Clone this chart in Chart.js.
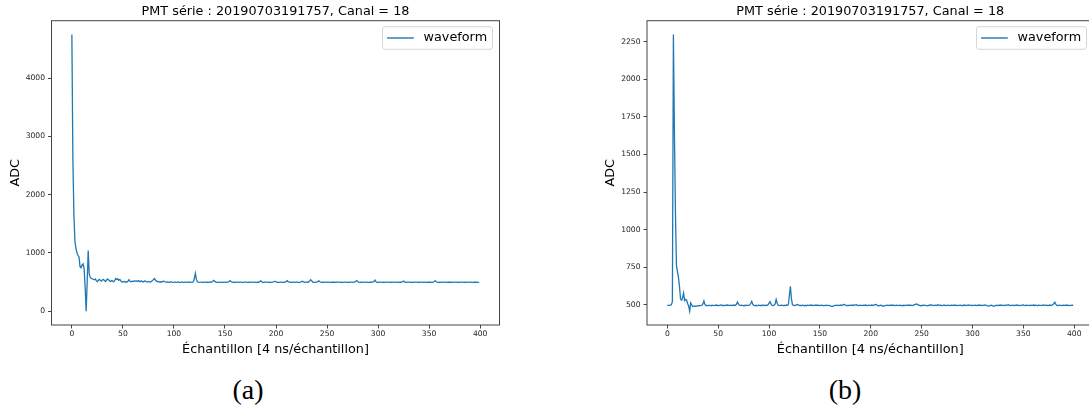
<!DOCTYPE html>
<html>
<head>
<meta charset="utf-8">
<script src="https://cdn.jsdelivr.net/npm/chart.js@4/dist/chart.umd.min.js"></script>
<style>
  html, body { margin: 0; padding: 0; background: #fff; }
  body { width: 1089px; height: 408px; overflow: hidden; position: relative; }
  canvas { position: absolute; top: 0; }
  #ca { left: 0; }
  #cb { left: 545px; }
  .cap { position: absolute; font-family: "Liberation Serif", serif; font-size: 28px; color: #000;
         transform: translate(-50%, -50%); white-space: nowrap; line-height: 1; }
</style>
</head>
<body>
<canvas id="ca" width="545" height="360"></canvas>
<canvas id="cb" width="560" height="360"></canvas>
<div class="cap" style="left:248px; top:390px;">(a)</div>
<div class="cap" style="left:845px; top:390px;">(b)</div>
<script>
// ---- data ----
const chartTitle = "PMT série : 20190703191757, Canal = 18";
const xAxisTitle = "Échantillon [4 ns/échantillon]";
const yAxisTitle = "ADC";
const seriesName = "waveform";
const xTicks = [0, 50, 100, 150, 200, 250, 300, 350, 400];
const yTicksA = [0, 1000, 2000, 3000, 4000];
const yTicksB = [500, 750, 1000, 1250, 1500, 1750, 2000, 2250];

const waveformA = [
  4750, 2600, 1650, 1200, 1080, 1000, 960, 930, 765, 745, 790, 810, 730, 420, 0, 500, 1040, 640, 580, 565,
  555, 548, 540, 552, 525, 505, 530, 545, 528, 515, 540, 545, 522, 510, 535, 550, 540, 520, 510, 525,
  515, 505, 530, 560, 545, 555, 530, 545, 520, 500, 505, 510, 500, 505, 500, 515, 540, 510, 505, 515,
  510, 520, 515, 520, 510, 525, 515, 505, 520, 510, 500, 515, 520, 505, 500, 510, 505, 500, 515, 525,
  545, 560, 530, 515, 505, 510, 500, 505, 500, 510, 515, 505, 500, 498, 502, 496, 500, 505, 498, 495,
  497, 500, 495, 498, 502, 496, 494, 498, 500, 496, 495, 499, 497, 494, 500, 502, 496, 495, 498, 505,
  560, 650, 545, 505, 498, 495, 497, 500, 496, 494, 498, 500, 496, 497, 495, 499, 503, 498, 510, 530,
  515, 500, 496, 498, 495, 497, 500, 496, 494, 498, 497, 495, 499, 500, 510, 525, 508, 497, 495, 498,
  496, 494, 498, 500, 495, 497, 499, 496, 494, 498, 500, 497, 495, 498, 496, 499, 497, 494, 498, 500,
  496, 495, 498, 497, 505, 520, 506, 496, 494, 498, 500, 497, 495, 499, 496, 494, 498, 500, 505, 515,
  505, 496, 498, 495, 497, 500, 496, 494, 498, 500, 508, 525, 505, 497, 495, 498, 496, 499, 497, 494,
  498, 500, 496, 495, 500, 506, 515, 502, 496, 498, 500, 497, 503, 520, 540, 520, 500, 496, 494, 498,
  500, 508, 520, 505, 497, 495, 498, 496, 499, 497, 494, 498, 500, 496, 495, 498, 497, 500, 496, 494,
  498, 500, 497, 495, 499, 496, 494, 498, 500, 497, 495, 498, 496, 499, 497, 494, 498, 500, 510, 525,
  512, 497, 495, 498, 496, 499, 497, 494, 498, 500, 496, 495, 498, 497, 500, 498, 512, 532, 505, 496,
  494, 498, 500, 497, 495, 499, 496, 494, 498, 500, 497, 495, 498, 496, 499, 497, 494, 498, 500, 496,
  495, 498, 497, 500, 508, 518, 503, 496, 494, 498, 500, 497, 495, 499, 496, 494, 498, 500, 497, 495,
  498, 496, 499, 497, 494, 498, 500, 496, 495, 498, 497, 500, 496, 494, 500, 510, 522, 504, 497, 495,
  498, 496, 499, 497, 494, 498, 500, 496, 495, 498, 497, 500, 496, 494, 498, 500, 497, 495, 499, 496,
  494, 498, 500, 497, 495, 498, 496, 499, 497, 494, 498, 500, 496, 495, 498, 497, 500, 496, 494, 497
];

const waveformB = [
  495, 496, 495, 497, 500, 520, 2298, 1650, 1120, 760, 720, 680, 620, 540, 530, 545, 577, 528, 535, 530,
  508, 490, 457, 512, 500, 488, 490, 492, 489, 491, 493, 492, 495, 494, 496, 505, 525, 502, 495, 496,
  494, 496, 495, 493, 497, 495, 494, 496, 498, 495, 496, 494, 497, 499, 495, 496, 494, 497, 495, 498,
  496, 495, 497, 494, 496, 498, 495, 497, 503, 518, 505, 496, 494, 497, 495, 493, 496, 494, 497, 495,
  496, 498, 508, 522, 503, 495, 494, 496, 493, 495, 497, 494, 496, 495, 498, 494, 496, 497, 495, 500,
  510, 520, 505, 495, 494, 497, 505, 535, 510, 496, 494, 496, 495, 497, 494, 496, 495, 498, 496, 500,
  560, 622, 540, 500, 496, 494, 497, 499, 501, 498, 495, 496, 494, 497, 495, 493, 496, 494, 497, 495,
  496, 498, 495, 497, 494, 496, 498, 495, 497, 496, 494, 497, 495, 496, 493, 495, 497, 494, 496, 495,
  493, 490, 488, 491, 494, 496, 495, 497, 494, 496, 498, 495, 497, 500, 502, 498, 495, 496, 494, 497,
  495, 496, 498, 495, 497, 499, 500, 496, 494, 497, 495, 496, 494, 497, 495, 498, 496, 494, 497, 495,
  496, 498, 495, 497, 500, 502, 498, 494, 493, 495, 497, 494, 490, 492, 494, 496, 495, 497, 494, 496,
  498, 495, 497, 496, 494, 497, 495, 496, 494, 497, 495, 493, 496, 494, 497, 495, 496, 498, 495, 497,
  496, 494, 497, 500, 503, 505, 502, 497, 495, 493, 496, 494, 497, 495, 496, 494, 492, 497, 495, 500,
  498, 494, 496, 495, 497, 494, 500, 498, 495, 497, 494, 496, 499, 496, 494, 497, 495, 496, 494, 497,
  495, 496, 498, 495, 497, 494, 496, 495, 497, 494, 496, 495, 498, 496, 494, 497, 499, 496, 495, 497,
  494, 496, 495, 497, 494, 496, 498, 495, 497, 496, 494, 497, 499, 496, 495, 493, 491, 494, 497, 495,
  492, 490, 493, 495, 497, 494, 496, 498, 495, 497, 496, 494, 497, 495, 498, 500, 497, 494, 496, 495,
  497, 494, 496, 498, 495, 497, 494, 496, 495, 497, 499, 496, 494, 497, 495, 496, 494, 497, 495, 496,
  498, 495, 497, 496, 494, 497, 495, 496, 494, 497, 499, 496, 495, 497, 494, 496, 498, 495, 497, 500,
  508, 517, 502, 496, 494, 497, 495, 496, 494, 497, 495, 496, 498, 495, 497, 494, 496, 495, 497, 496
];

// ---- rendering ----
const FONT = "'DejaVu Sans', sans-serif";
const LINE_COLOR = '#1f77b4';
const AXIS_COLOR = '#444';

const framePlugin = {
  id: 'frameAndLegend',
  afterDraw(chart) {
    const ctx = chart.ctx;
    const a = chart.chartArea;
    ctx.save();
    // frame (all four spines)
    ctx.strokeStyle = AXIS_COLOR;
    ctx.lineWidth = 1;
    ctx.strokeRect(a.left, a.top, a.right - a.left, a.bottom - a.top);
    // legend box, upper right inside axes
    const w = 110, h = 22.6;
    const x0 = a.right - 7 - w, y0 = a.top + 6;
    const r = 2.5;
    ctx.beginPath();
    ctx.moveTo(x0 + r, y0);
    ctx.lineTo(x0 + w - r, y0); ctx.quadraticCurveTo(x0 + w, y0, x0 + w, y0 + r);
    ctx.lineTo(x0 + w, y0 + h - r); ctx.quadraticCurveTo(x0 + w, y0 + h, x0 + w - r, y0 + h);
    ctx.lineTo(x0 + r, y0 + h); ctx.quadraticCurveTo(x0, y0 + h, x0, y0 + h - r);
    ctx.lineTo(x0, y0 + r); ctx.quadraticCurveTo(x0, y0, x0 + r, y0);
    ctx.closePath();
    ctx.fillStyle = 'rgba(255,255,255,0.8)';
    ctx.fill();
    ctx.strokeStyle = '#d6d6d6';
    ctx.lineWidth = 1;
    ctx.stroke();
    const cy = y0 + h / 2;
    ctx.beginPath();
    ctx.moveTo(x0 + 4.6, cy); ctx.lineTo(x0 + 31.3, cy);
    ctx.strokeStyle = LINE_COLOR; ctx.lineWidth = 1.4; ctx.stroke();
    ctx.fillStyle = '#000';
    ctx.font = "12.8px 'DejaVu Sans', sans-serif";
    ctx.textBaseline = 'middle';
    ctx.textAlign = 'left';
    ctx.fillText(chart.options.plugins.customLegendText, x0 + 41, cy);
    ctx.restore();
  }
};

function makeChart(id, values, yTicks, padLeft, yWidth, padRight) {
  const pts = values.map((v, i) => ({ x: i, y: v }));
  const vmin = Math.min(...values), vmax = Math.max(...values);
  const ym = (vmax - vmin) * 0.05;
  const xm = (values.length - 1) * 0.05;
  const tickFont = { family: FONT, size: 7.6 };
  return new Chart(document.getElementById(id), {
    type: 'line',
    data: {
      datasets: [{
        label: seriesName,
        data: pts,
        borderColor: LINE_COLOR,
        borderWidth: 1.3,
        pointRadius: 0,
        tension: 0,
        fill: false
      }]
    },
    options: {
      responsive: false,
      animation: false,
      events: [],
      layout: { padding: { left: padLeft, right: padRight, top: 0, bottom: 0 } },
      plugins: {
        legend: { display: false },
        tooltip: { enabled: false },
        customLegendText: seriesName,
        title: {
          display: true,
          text: chartTitle,
          fullSize: false,
          color: '#000',
          font: { family: FONT, size: 12.8, weight: 'normal', lineHeight: 1.2 },
          padding: { top: 4.4, bottom: 0.94 }
        }
      },
      scales: {
        x: {
          type: 'linear',
          min: -xm,
          max: values.length - 1 + xm,
          afterBuildTicks: (s) => { s.ticks = xTicks.map(v => ({ value: v })); },
          afterFit: (s) => { s.height = 35; },
          border: { display: false },
          grid: { display: true, drawOnChartArea: false, drawTicks: true, tickLength: 3.5, tickColor: AXIS_COLOR, tickWidth: 1 },
          ticks: { font: tickFont, color: '#222', padding: 1, maxRotation: 0, autoSkip: false, callback: (v) => String(v) },
          title: { display: true, text: xAxisTitle, color: '#000', font: { family: FONT, size: 12.8, lineHeight: 1.2 }, padding: { top: 0, bottom: 3 } }
        },
        y: {
          type: 'linear',
          min: vmin - ym,
          max: vmax + ym,
          afterBuildTicks: (s) => { s.ticks = yTicks.map(v => ({ value: v })); },
          afterFit: (s) => { s.width = yWidth; },
          border: { display: false },
          grid: { display: true, drawOnChartArea: false, drawTicks: true, tickLength: 3.5, tickColor: AXIS_COLOR, tickWidth: 1 },
          ticks: { font: tickFont, color: '#222', padding: 3, autoSkip: false, callback: (v) => String(v) },
          title: { display: true, text: yAxisTitle, color: '#000', font: { family: FONT, size: 12.8, lineHeight: 1.2 }, padding: { top: 8, bottom: 0 } }
        }
      }
    },
    plugins: [framePlugin]
  });
}

makeChart('ca', waveformA, yTicksA, 0, 51.5, 45.5);
makeChart('cb', waveformB, yTicksB, 50, 52, 11.5);
</script>
</body>
</html>
